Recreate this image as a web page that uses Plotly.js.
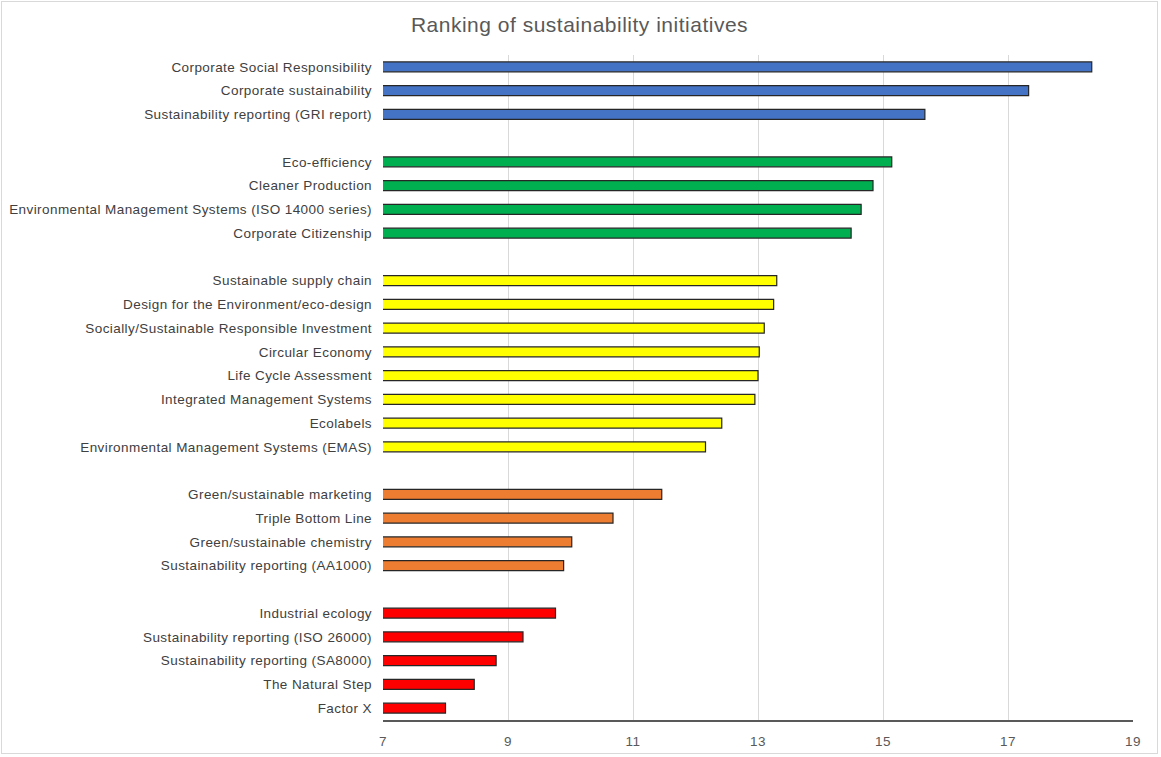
<!DOCTYPE html>
<html>
<head>
<meta charset="utf-8">
<script src="https://cdn.plot.ly/plotly-3.0.1.min.js"></script>
<style>
  html, body { margin: 0; padding: 0; background: #ffffff; }
  #frame { position: absolute; left: 1px; top: 1px; width: 1157px; height: 753px;
           border: 1px solid #d9d9d9; box-sizing: border-box; }
  #chart { width: 1155px; height: 751px; }
  #chart .ytick text, #chart .xtick text { letter-spacing: 0.42px; }
  #chart .gtitle { letter-spacing: 0.5px; }
</style>
</head>
<body>
<div id="frame"><div id="chart"></div></div>
<script>
// Groups, top to bottom
const blueLabels = ["Corporate Social Responsibility", "Corporate sustainability", "Sustainability reporting (GRI report)"];
const blueValues = [18.34, 17.33, 15.67];

const greenLabels = ["Eco-efficiency", "Cleaner Production", "Environmental Management Systems (ISO 14000 series)", "Corporate Citizenship"];
const greenValues = [15.14, 14.84, 14.65, 14.49];

const yellowLabels = ["Sustainable supply chain", "Design for the Environment/eco-design", "Socially/Sustainable Responsible Investment",
  "Circular Economy", "Life Cycle Assessment", "Integrated Management Systems", "Ecolabels", "Environmental Management Systems (EMAS)"];
const yellowValues = [13.30, 13.25, 13.10, 13.02, 13.00, 12.95, 12.42, 12.16];

const orangeLabels = ["Green/sustainable marketing", "Triple Bottom Line", "Green/sustainable chemistry", "Sustainability reporting (AA1000)"];
const orangeValues = [11.46, 10.68, 10.02, 9.89];

const redLabels = ["Industrial ecology", "Sustainability reporting (ISO 26000)", "Sustainability reporting (SA8000)", "The Natural Step", "Factor X"];
const redValues = [9.76, 9.24, 8.81, 8.46, 8.00];

const groupColors = ["#4472C4", "#00B050", "#FFFF00", "#ED7D31", "#FF0000"];
const gapLabels = [" ", "  ", "   ", "    "];

const groups = [
  [blueLabels, blueValues],
  [greenLabels, greenValues],
  [yellowLabels, yellowValues],
  [orangeLabels, orangeValues],
  [redLabels, redValues]
];

// Category order top to bottom with blank gap rows between groups
const orderTopDown = [];
groups.forEach((g, i) => {
  orderTopDown.push(...g[0]);
  if (i < gapLabels.length) orderTopDown.push(gapLabels[i]);
});
const categoryOrder = orderTopDown.slice().reverse();

const traces = groups.map((g, i) => ({
  type: "bar",
  orientation: "h",
  y: g[0],
  x: g[1],
  base: 0,
  marker: { color: groupColors[i], line: { color: "#262626", width: 1.2 } },
  hoverinfo: "x+y",
  showlegend: false
}));

const layout = {
  width: 1155,
  height: 751,
  margin: { l: 381, r: 24, t: 53, b: 33 },
  paper_bgcolor: "#ffffff",
  plot_bgcolor: "#ffffff",
  font: { family: "Liberation Sans, Arial, sans-serif", size: 13.5, color: "#404040" },
  title: {
    text: "Ranking of sustainability initiatives",
    font: { family: "Liberation Sans, Arial, sans-serif", size: 21, color: "#595959" },
    x: 0.5, xanchor: "center", xref: "container",
    y: 0.97, yanchor: "middle", yref: "container"
  },
  barmode: "overlay",
  bargap: 0.58,
  xaxis: {
    range: [7, 19],
    tick0: 7,
    dtick: 2,
    showgrid: true,
    gridcolor: "#d9d9d9",
    gridwidth: 1,
    zeroline: false,
    showline: true,
    linecolor: "#595959",
    linewidth: 1.5,
    ticks: "",
    ticklabelstandoff: 8,
    tickfont: { size: 13.5, color: "#595959" }
  },
  yaxis: {
    type: "category",
    categoryorder: "array",
    categoryarray: categoryOrder,
    range: [-0.5, categoryOrder.length - 0.5],
    showgrid: false,
    zeroline: false,
    showline: false,
    ticks: "",
    ticklabelstandoff: 10,
    tickfont: { size: 13.5, color: "#404040" }
  }
};

Plotly.newPlot("chart", traces, layout, { displayModeBar: false, staticPlot: true });
</script>
</body>
</html>
